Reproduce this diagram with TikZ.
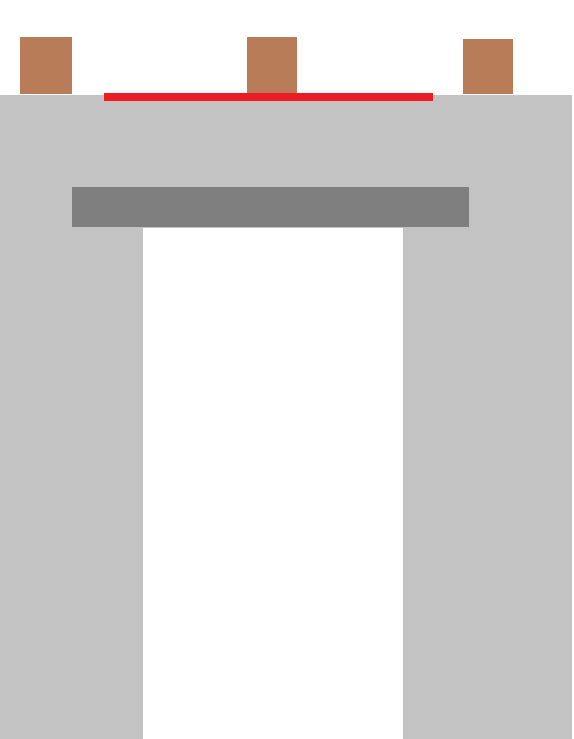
\documentclass[tikz,border=0pt]{standalone}
\definecolor{wallgray}{HTML}{C3C3C3}
\definecolor{beamgray}{HTML}{7F7F7F}
\definecolor{brick}{HTML}{B87D58}
\definecolor{redline}{HTML}{ED1C24}
\tikzset{
  wall/.style={fill=wallgray, draw=none},
  beam/.style={fill=beamgray, draw=none},
  block/.style={fill=brick, draw=none},
  redbar/.style={fill=redline, draw=none}
}
\begin{document}
\begin{tikzpicture}[x=1pt,y=-1pt]
\useasboundingbox (0,0) rectangle (573,739);
\fill[white] (0,0) rectangle (573,739);
% wall with opening
\fill[wall] (0,95) rectangle (572,739);
\fill[white] (143,228) rectangle (403,739);
% lintel beam
\fill[beam] (72,187) rectangle (469,227);
% blocks on top
\fill[block] (20,37) rectangle (72,94);
\fill[block] (247,37) rectangle (297,94);
\fill[block] (463,39) rectangle (513,94);
% red line
\fill[redbar] (104,93) rectangle (433,101);
\end{tikzpicture}
\end{document}
